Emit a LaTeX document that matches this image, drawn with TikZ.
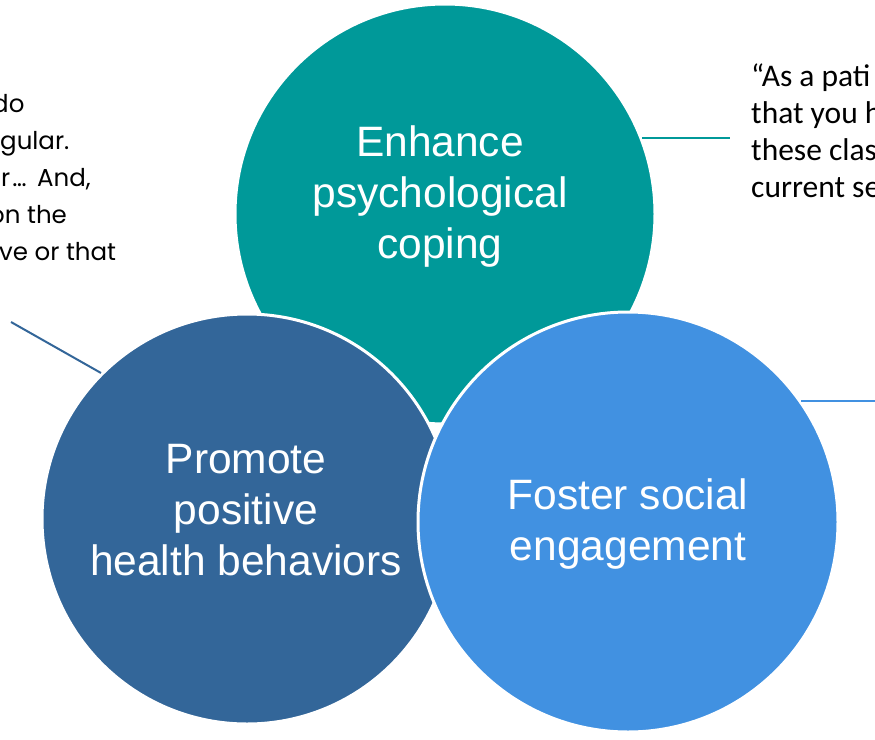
\documentclass[tikz,border=0pt]{standalone}
\usepackage{fontspec}
\setmainfont{Liberation Sans}
\newfontfamily\gothicfont{Poppins}
\newfontfamily\calibfont{Carlito}
\definecolor{tealc}{RGB}{0,153,153}
\definecolor{darkc}{RGB}{51,102,153}
\definecolor{lightc}{RGB}{65,145,225}
\begin{document}
\begin{tikzpicture}[x=1pt,y=-1pt,
  disc/.style={circle,draw=white,line width=3pt,inner sep=0pt,minimum size=#1},
  lbl/.style={text=white,align=center,font=\fontsize{42.5}{51}\selectfont},
  conn/.style={line width=2pt},
  lefttxt/.style={anchor=base west,inner sep=0pt,font=\gothicfont\fontsize{24.5}{37}\selectfont},
  righttxt/.style={anchor=base west,inner sep=0pt,font=\calibfont\fontsize{31.5}{37}\selectfont}]
\useasboundingbox (0,0) rectangle (875,739);
\fill[white] (0,0) rectangle (875,739);
% circles
\node[disc=420pt,fill=tealc] (tc) at (445,214) {};
\node[disc=410pt,fill=darkc] (bc) at (247,519) {};
\node[disc=420pt,fill=lightc] (lc) at (628,522) {};
% connector ends
\coordinate (te) at (730,138);
\coordinate (be) at (11,322);
\coordinate (le) at (875,400);
\draw[conn,tealc] (tc.21.2) -- (tc.21.2 -| te);
\draw[conn,darkc] (bc.135) -- (be);
\draw[conn,lightc] (lc.35.5) -- (lc.35.5 -| le);
% circle labels
\node[lbl] (t1) at (440,197) {Enhance\\psychological\\coping};
\node[lbl] (t2) at (246,510) {Promote\\positive\\health behaviors};
\node[lbl] (t3) at (628,524) {Foster social\\engagement};
% left quote fragments
\node[lefttxt] (q1) at (-8,112) {do};
\node[lefttxt] (q2) at (0,149) {gular.};
\node[lefttxt] (q3) at (1,186) {r\hspace{2pt}…\hspace{4pt} And,};
\node[lefttxt] (q4) at (-11,223) {on the};
\node[lefttxt] (q5) at (-1,260) {ve or that};
% right quote fragments
\node[righttxt] (r1) at (751,86) {“As a pati};
\node[righttxt] (r2) at (751,123) {that you h};
\node[righttxt] (r3) at (751,160) {these clas};
\node[righttxt] (r4) at (751,197) {current se};
\end{tikzpicture}
\end{document}
